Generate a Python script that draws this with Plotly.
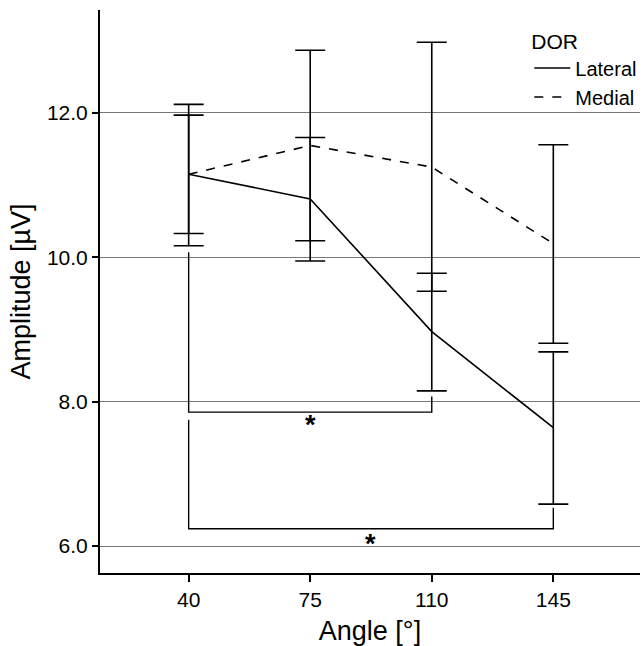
import plotly.graph_objects as go

angles = [40, 75, 110, 145]
tick_labels = ["40", "75", "110", "145"]

lateral_mean = [11.15, 10.81, 8.97, 7.64]
lateral_upper = [11.97, 11.66, 9.78, 8.69]
lateral_lower = [10.33, 9.95, 8.15, 6.58]

medial_mean = [11.15, 11.55, 11.25, 10.19]
medial_upper = [12.12, 12.87, 12.98, 11.56]
medial_lower = [10.16, 10.23, 9.53, 8.81]

# significance brackets: (x_left, x_right, y_left_top, y_right_top, y_bar)
brackets = [
    (40, 110, 10.07, 8.07, 7.855),
    (40, 145, 7.75, 6.53, 6.24),
]
star_y = [7.67, 6.03]

fig = go.Figure()

def err(mean, up, lo):
    return dict(type="data", symmetric=False,
                array=[u - m for u, m in zip(up, mean)],
                arrayminus=[m - l for m, l in zip(mean, lo)],
                color="black", thickness=1.6, width=15)

fig.add_trace(go.Scatter(x=angles, y=lateral_mean, mode="lines", name="Lateral",
                         line=dict(color="black", width=1.6),
                         error_y=err(lateral_mean, lateral_upper, lateral_lower)))
fig.add_trace(go.Scatter(x=angles, y=medial_mean, mode="lines", name="Medial",
                         line=dict(color="black", width=1.6, dash="dash"),
                         error_y=err(medial_mean, medial_upper, medial_lower)))

for (xl, xr, yl, yr, yb), sy in zip(brackets, star_y):
    fig.add_trace(go.Scatter(x=[xl, xl, xr, xr], y=[yl, yb, yb, yr], mode="lines",
                             line=dict(color="black", width=1.4), showlegend=False,
                             hoverinfo="skip"))
    fig.add_annotation(x=(xl + xr) / 2, y=sy, text="<b>*</b>", showarrow=False,
                       font=dict(size=27, color="black", family="Liberation Sans, Arial"))

fig.update_layout(
    width=644, height=646,
    margin=dict(l=100, r=2, t=10, b=73),
    plot_bgcolor="white", paper_bgcolor="white",
    font=dict(family="Liberation Sans, Arial", color="black"),
    legend=dict(x=0.795, y=0.98, xanchor="left", yanchor="top",
                title=dict(text="DOR", font=dict(size=21)),
                font=dict(size=20), bgcolor="rgba(0,0,0,0)",
                itemwidth=36, tracegroupgap=0),
    xaxis=dict(range=[14.47, 169.96], tickmode="array", tickvals=angles, ticktext=tick_labels,
               showgrid=False, zeroline=False, showline=True, linecolor="black", linewidth=2,
               ticks="outside", ticklen=7, tickwidth=2, tickcolor="black",
               tickfont=dict(size=21),
               title=dict(text="Angle [°]", font=dict(size=27), standoff=13)),
    yaxis=dict(range=[5.626, 13.427], tickmode="array", tickvals=[6, 8, 10, 12],
               ticktext=["6.0", "8.0", "10.0", "12.0"],
               showgrid=True, gridcolor="#777777", gridwidth=1, zeroline=False,
               showline=True, linecolor="black", linewidth=2,
               ticks="outside", ticklen=6, tickwidth=2, tickcolor="black",
               tickfont=dict(size=21),
               title=dict(text="Amplitude [µV]", font=dict(size=27), standoff=8)),
)

fig.write_html("out.html", config={"displayModeBar": False},
               post_script="document.body.style.margin='0';document.documentElement.style.overflow='hidden';")
